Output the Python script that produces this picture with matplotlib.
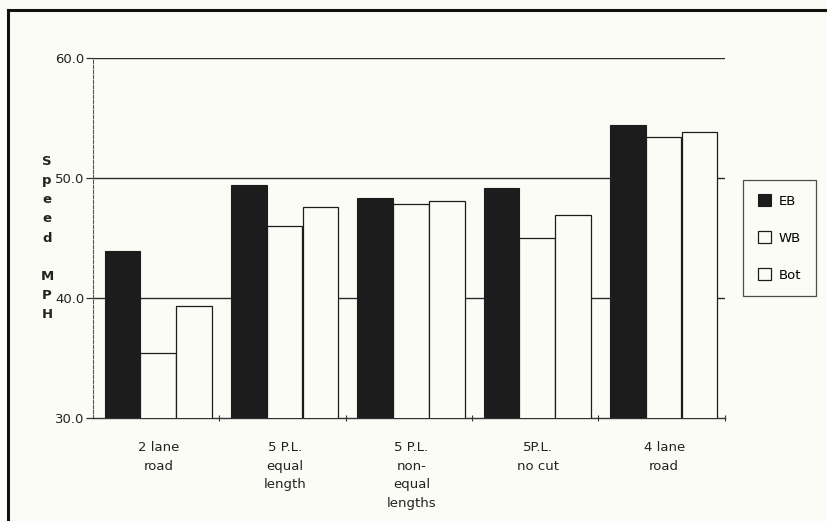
import numpy as np
import matplotlib.pyplot as plt
from matplotlib.lines import Line2D

# Mean speeds (MPH) per site and direction
sites = ["2 lane\nroad", "5 P.L.\nequal\nlength", "5 P.L.\nnon-\nequal\nlengths",
         "5P.L.\nno cut", "4 lane\nroad"]
eb = [43.9, 49.4, 48.3, 49.2, 54.4]
wb = [35.4, 46.0, 47.8, 45.0, 53.4]
bot = [39.3, 47.6, 48.1, 46.9, 53.8]
yticks = [30.0, 40.0, 50.0, 60.0]

paper = "#fcfcf7"
ink = "#1c1c1c"
fs = 9.5

fig = plt.figure(figsize=(8.27, 5.21), dpi=100, facecolor=paper)
ax = fig.add_axes([0.1125, 0.1977, 0.764, 0.691])
ax.set_facecolor(paper)

x = np.arange(len(sites))
w = 0.282
ax.bar(x + 0.233, eb, w, color=ink, edgecolor=ink, linewidth=0.8, zorder=3, label="EB")
ax.bar(x + 0.514, wb, w, color=paper, edgecolor=ink, linewidth=0.9, zorder=3, label="WB")
ax.bar(x + 0.799, bot, w, color=paper, edgecolor=ink, linewidth=0.9, zorder=3, label="Bot")

# horizontal rules behind the bars
for v in yticks[1:]:
    ax.axhline(v, color="#2a2a2a", linewidth=1.0, zorder=1)

ax.set_xlim(0, 5)
ax.set_ylim(30, 60)
ax.set_yticks(yticks)
ax.set_yticklabels([f"{v:.1f}" for v in yticks], fontsize=fs, color="#222")
ax.tick_params(axis="y", length=5, width=0.9, color="#333", pad=1)

ax.set_xticks(x + 1)
ax.set_xticklabels([])
ax.tick_params(axis="x", direction="inout", length=5, width=0.8, color="#333")
for i, s in enumerate(sites):
    ax.text(i + 0.52, -0.065, s, transform=ax.get_xaxis_transform(), ha="center", va="top",
            fontsize=fs, color="#222", linespacing=1.55)

for side in ("top", "right"):
    ax.spines[side].set_visible(False)
ax.spines["bottom"].set_color("#333")
ax.spines["bottom"].set_linewidth(1.0)
ax.spines["left"].set_color("#555")
ax.spines["left"].set_linewidth(0.8)
ax.spines["left"].set_linestyle((0, (3, 1.5)))

fig.text(47 / 827, 1 - 238 / 521, "S\np\ne\ne\nd\n\nM\nP\nH", ha="center", va="center",
         fontsize=fs, fontweight="bold", color="#222", linespacing=1.62)

leg = ax.legend(loc="center left", bbox_to_anchor=(743 / 827, 1 - 238 / 521),
                bbox_transform=fig.transFigure, fontsize=fs, frameon=True, fancybox=False,
                handlelength=1.0, handleheight=1.0, labelspacing=1.8, borderpad=1.1,
                handletextpad=0.6, borderaxespad=0)
leg.get_frame().set_edgecolor("#222")
leg.get_frame().set_linewidth(0.9)
leg.get_frame().set_facecolor(paper)

# page frame on the left and top edges
fx, fy = 8 / 827, 1 - 10 / 521
fig.add_artist(Line2D([fx, fx], [0, fy], transform=fig.transFigure, color="#111", linewidth=2.2))
fig.add_artist(Line2D([fx, 1], [fy, fy], transform=fig.transFigure, color="#111", linewidth=2.2))

fig.savefig("out.png", dpi=100, facecolor=paper)
